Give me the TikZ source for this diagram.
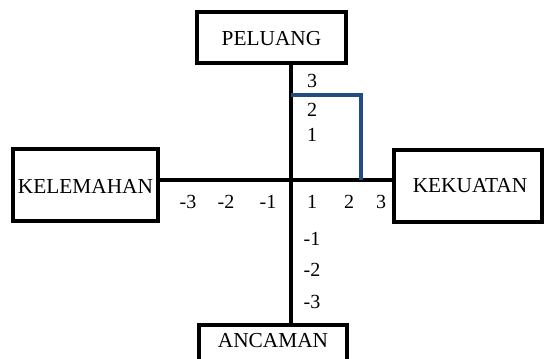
\documentclass[tikz,border=0pt]{standalone}
\usepackage{fontspec}
\setmainfont{Liberation Serif}
\definecolor{axisblue}{RGB}{32,77,130}
\begin{document}
\begin{tikzpicture}[x=0.75pt,y=-0.75pt,
  box/.style={draw=black,line width=3pt,inner sep=0pt},
  lbl/.style={inner sep=0pt,font=\fontsize{16}{18}\selectfont},
  num/.style={inner sep=0pt,font=\fontsize{15}{17}\selectfont},
  axis/.style={draw=black,line width=3pt},
  frame/.style={draw=axisblue,line width=2.8pt}]
\useasboundingbox (0,0) rectangle (545,358);
\clip (0,0) rectangle (545,358);
% origin of the quadrant axes
\coordinate (o) at (291,180);
% the four boxes
\node[box,minimum width=111.75pt,minimum height=38.25pt] (pel) at (271.5,37.5) {};
\node[lbl] (peltext) at (271.5,39) {PELUANG};
\node[box,minimum width=108.75pt,minimum height=54pt] (kel) at (85.5,185) {};
\node[lbl] (keltext) at (85.5,186) {KELEMAHAN};
\node[box,minimum width=111pt,minimum height=54pt] (kek) at (468,185.5) {};
\node[lbl] (kektext) at (470,186) {KEKUATAN};
\node[box,minimum width=111pt,minimum height=37.5pt] (anc) at (273,350) {};
\node[lbl] (anctext) at (273,341) {ANCAMAN};
% axes
\draw[axis] (o |- pel.south) -- (o |- anc.north);
\draw[axis] (kel.east |- o) -- (kek.west |- o);
% highlighted region
\coordinate (b1) at (291,95);
\coordinate (b2) at (361,95);
\coordinate (b3) at (361,180);
\draw[frame] (b1) -- (b2) -- (b3);
% scale values
\node[num] (v3) at (312,81) {3};
\node[num] (v2) at (312,110) {2};
\node[num] (v1) at (312,135) {1};
\node[num] (hm3) at (188,202) {-3};
\node[num] (hm2) at (226,202) {-2};
\node[num] (hm1) at (268,202) {-1};
\node[num] (h1) at (312,202) {1};
\node[num] (h2) at (349,202) {2};
\node[num] (h3) at (381,202) {3};
\node[num] (vm1) at (312,239) {-1};
\node[num] (vm2) at (312,270) {-2};
\node[num] (vm3) at (312,302) {-3};
\end{tikzpicture}
\end{document}
